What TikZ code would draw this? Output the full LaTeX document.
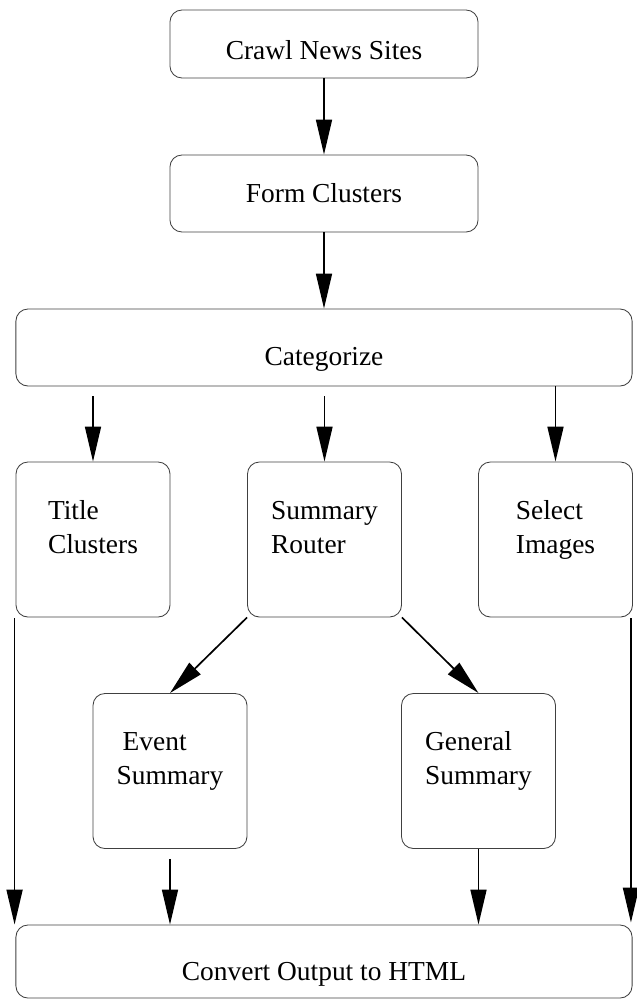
\documentclass[tikz,border=0pt]{standalone}
\usepackage{fontspec}
\setmainfont{Liberation Serif}
\usetikzlibrary{arrows.meta,calc}

\newcommand{\lift}[2]{\raisebox{#1}[\height][\depth]{#2}}
\newcommand{\twolines}[2]{\lift{0.25cm}{\begin{tabular}{@{}l@{}}#1\\#2\end{tabular}}}

\tikzset{
  stage/.style={draw=black!75, line width=0.6pt, rounded corners=0.3cm, inner sep=0pt,
    font=\fontsize{19.5}{24}\selectfont},
  widebox/.style={stage, minimum width=7.7cm, minimum height=1.925cm},
  fullbox/.style={stage, minimum width=15.4cm, minimum height=1.925cm},
  tallbox/.style={stage, minimum width=3.85cm, minimum height=3.875cm},
  flow/.style={line width=1.2pt, -{Triangle[length=0.875cm, width=0.4cm]}}
}

\begin{document}
\begin{tikzpicture}[x=0.025cm, y=-0.025cm]

\useasboundingbox (0,0) rectangle (637,1000);

% pipeline stages
\node[widebox, minimum height=1.7cm] (crawl) at (324,44) {\lift{-0.15cm}{Crawl News Sites}};
\node[widebox] (form) at (324,193.5) {Form Clusters};
\node[fullbox] (cat) at (324,347.5) {\lift{-0.3cm}{Categorize}};

\node[tallbox] (title) at (93,539.5) {\twolines{Title}{Clusters}};
\node[tallbox] (router) at (324.5,539.5) {\twolines{Summary}{Router}};
\node[tallbox] (select) at (555.5,539.5) {\twolines{Select}{Images}};

\node[tallbox] (event) at (170,771) {\twolines{\hspace{0.15cm}Event}{Summary}};
\node[tallbox] (general) at (478.5,771) {\twolines{General}{Summary}};

\node[fullbox, minimum height=1.825cm] (html) at (324,961.5) {\lift{-0.33cm}{Convert Output to HTML}};

% connectors
\draw[flow] (crawl) -- (form);
\draw[flow] (form) -- (cat);

\draw[flow] ($(title.north |- cat.south)+(0,10)$) -- (title.north);
\draw[flow] ($(router.north |- cat.south)+(0,10)$) -- (router.north);
\draw[flow] (select.north |- cat.south) -- (select.north);

\draw[flow] (router.south west) -- (event.north);
\draw[flow] (router.south east) -- (general.north);

\draw[flow] ($(title.south west)+(-1,1)$) -- ($(title.south west |- html.north)+(-1,0)$);
\draw[flow] ($(event.south)+(0,10)$) -- (event.south |- html.north);
\draw[flow] (general.south) -- (general.south |- html.north);
\draw[flow] ($(select.south east)+(-2,1)$) -- ($(select.south east |- html.north)+(-2,-2)$);

\end{tikzpicture}
\end{document}
